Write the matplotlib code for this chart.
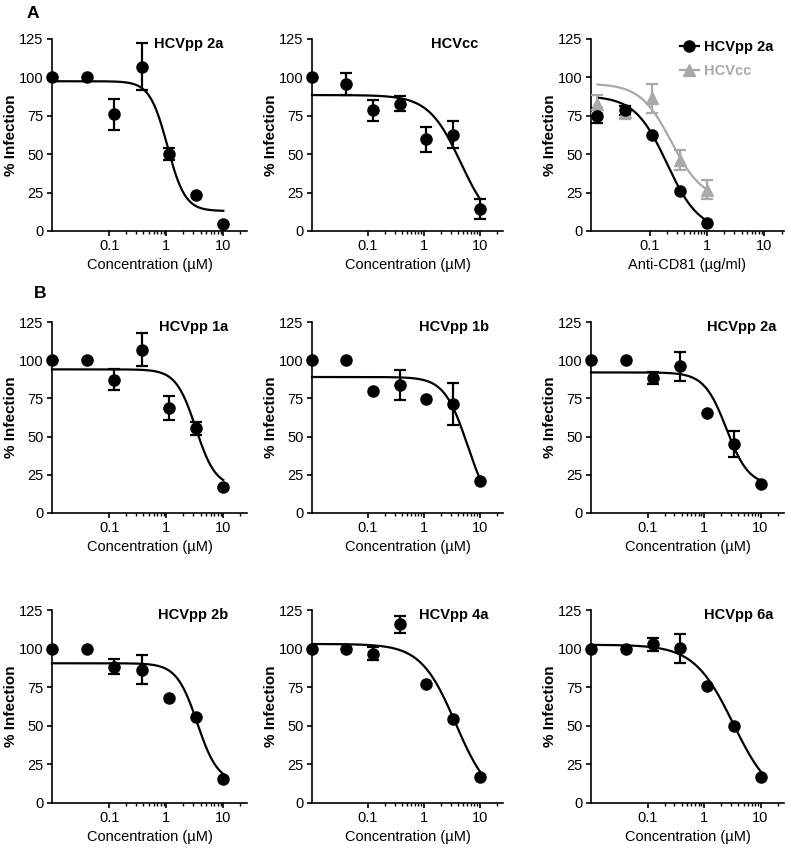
import numpy as np
import matplotlib.pyplot as plt
from matplotlib.ticker import FixedLocator, FixedFormatter
from matplotlib.lines import Line2D

plt.rcParams['font.family'] = ['Liberation Sans', 'DejaVu Sans']

# concentrations (uM) used in most panels, anti-CD81 dilutions (ug/ml)
conc = [0.01, 0.041, 0.123, 0.37, 1.11, 3.33, 10]
cd81 = [0.0123, 0.037, 0.111, 0.333, 1.0]

# panel A - mean % infection and error
a_2a = [100, 100, 76, 107, 50, 23.5, 4.5]
a_2a_err = [0, 0, 10, 15.5, 4, 0, 0]
a_cc = [100, 95.7, 78.7, 83, 59.6, 62.8, 14.1]
a_cc_err = [0, 7.3, 6.8, 4.9, 8, 8.7, 6.5]
cd81_2a = [75, 78.5, 62.7, 26, 5]
cd81_2a_err = [5, 3, 0, 0, 0]
cd81_cc = [82.6, 77.2, 86.5, 46.5, 27]
cd81_cc_err = [6, 4, 9.5, 6.5, 6]

# panel B - genotypes
b_1a = [100, 100, 87.3, 107, 68.9, 55.5, 17.3]
b_1a_err = [0, 0, 7, 10.7, 7.8, 4.3, 0]
b_1b = [100, 100, 79.9, 83.7, 74.4, 71.3, 21]
b_1b_err = [0, 0, 0, 10, 0, 14, 0]
b_2a = [100, 100, 88.5, 96.1, 65.7, 45.2, 19.1]
b_2a_err = [0, 0, 3.8, 9.5, 0, 8.3, 0]
b_2b = [100, 100, 88.2, 86.4, 67.8, 55.7, 15.8]
b_2b_err = [0, 0, 4.8, 9.6, 0, 0, 0]
b_4a = [100, 100, 96.8, 115.9, 76.9, 54.6, 16.7]
b_4a_err = [0, 0, 4.5, 5.5, 0, 0, 0]
b_6a = [100, 100, 102.8, 100.3, 75.9, 50.1, 16.8]
b_6a_err = [0, 0, 4.3, 9.4, 0, 0, 0]

# sigmoidal dose-response fits: top, bottom, IC50, hill slope
fit_a_2a = [97.5, 13, 1.05, 2.8]
fit_a_cc = [88.5, 0, 4.6, 1.5]
fit_cd81_2a = [88, 0, 0.2, 1.55]
fit_cd81_cc = [96, 20, 0.24, 1.6]
fit_b_1a = [94, 17, 3.3, 2.5]
fit_b_1b = [89, 0, 6.0, 2.1]
fit_b_2a = [92, 18, 2.5, 2.2]
fit_b_2b = [90.5, 13, 3.5, 2.4]
fit_b_4a = [103, 0, 3.7, 1.4]
fit_b_6a = [102.5, 0, 3.3, 1.25]

gray = '#a9a9a9'

fig = plt.figure(figsize=(7.9, 8.48), dpi=100)


def make_ax(l, t, w, b):
    return fig.add_axes([l / 790, 1 - b / 848, w / 790, (b - t) / 848])


def style(ax, xlim, xlabel):
    ax.set_xscale('log')
    ax.set_xlim(*xlim)
    ax.set_ylim(0, 125)
    ax.set_yticks([0, 25, 50, 75, 100, 125])
    ax.xaxis.set_major_locator(FixedLocator([0.1, 1, 10]))
    ax.xaxis.set_major_formatter(FixedFormatter(['0.1', '1', '10']))
    ax.xaxis.set_minor_locator(FixedLocator([0.2, 0.3, 0.4, 0.5, 0.6, 0.7, 0.8, 0.9,
                                             2, 3, 4, 5, 6, 7, 8, 9, 20]))
    ax.xaxis.set_minor_formatter(FixedFormatter([]))
    for s in ['top', 'right']:
        ax.spines[s].set_visible(False)
    for s in ['left', 'bottom']:
        ax.spines[s].set_linewidth(1.2)
    ax.tick_params(which='major', direction='out', length=3.5, width=1.2, labelsize=10.5, pad=2.5)
    ax.tick_params(which='minor', direction='out', length=2, width=1.0)
    ax.set_ylabel('% Infection', fontsize=11, fontweight='bold', labelpad=1)
    ax.set_xlabel(xlabel, fontsize=10.5, labelpad=3)


def draw(ax, x, y, err, fit, color='black', marker='o', ms=8):
    x = np.array(x)
    y = np.array(y)
    err = np.array(err)
    top, bottom, ic50, hill = fit
    xs = np.logspace(np.log10(x[0]), np.log10(x[-1]), 300)
    ys = bottom + (top - bottom) / (1 + (xs / ic50) ** hill)
    ax.plot(xs, ys, color=color, lw=1.6, clip_on=False, zorder=2)
    m = err > 0
    ax.errorbar(x[m], y[m], yerr=err[m], fmt='none', ecolor=color, elinewidth=1.6,
                capsize=4, capthick=1.6, clip_on=False, zorder=3)
    ax.plot(x, y, ls='none', marker=marker, color=color, ms=ms, clip_on=False, zorder=4)


def title(ax, text, x):
    ax.text(x, 0.973, text, transform=ax.transAxes, ha='center', va='center',
            fontsize=10.5, fontweight='bold')


cols = [(52, 195), (312, 191), (591, 193)]
rows = [(39, 231), (322, 513), (610, 803)]
xl_um = (0.01, 26)
xl_ab = (0.0095, 22)
lab_um = 'Concentration (µM)'

# row A
ax = make_ax(cols[0][0], rows[0][0], cols[0][1], rows[0][1])
style(ax, xl_um, lab_um)
draw(ax, conc, a_2a, a_2a_err, fit_a_2a)
title(ax, 'HCVpp 2a', 0.70)

ax = make_ax(cols[1][0], rows[0][0], cols[1][1], rows[0][1])
style(ax, xl_um, lab_um)
draw(ax, conc, a_cc, a_cc_err, fit_a_cc)
title(ax, 'HCVcc', 0.749)

ax = make_ax(cols[2][0], rows[0][0], cols[2][1], rows[0][1])
style(ax, xl_ab, 'Anti-CD81 (µg/ml)')
draw(ax, cd81, cd81_cc, cd81_cc_err, fit_cd81_cc, color=gray, marker='^', ms=8.5)
draw(ax, cd81, cd81_2a, cd81_2a_err, fit_cd81_2a)
handles = [Line2D([], [], color='black', marker='o', ms=8, lw=1.6),
           Line2D([], [], color=gray, marker='^', ms=8.5, lw=1.6)]
ax.legend(handles, ['HCVpp 2a', 'HCVcc'], loc='upper left', bbox_to_anchor=(0.46, 0.995),
          frameon=False, handlelength=1.3, handletextpad=0.35, labelspacing=0.7,
          borderpad=0, borderaxespad=0, labelcolor='linecolor',
          prop={'weight': 'bold', 'size': 10.5})

# row B / C
genos = [
    ('HCVpp 1a', b_1a, b_1a_err, fit_b_1a, 0.724),
    ('HCVpp 1b', b_1b, b_1b_err, fit_b_1b, 0.746),
    ('HCVpp 2a', b_2a, b_2a_err, fit_b_2a, 0.78),
    ('HCVpp 2b', b_2b, b_2b_err, fit_b_2b, 0.726),
    ('HCVpp 4a', b_4a, b_4a_err, fit_b_4a, 0.744),
    ('HCVpp 6a', b_6a, b_6a_err, fit_b_6a, 0.763),
]
for i, (name, y, e, f, tx) in enumerate(genos):
    r = rows[1 + i // 3]
    c = cols[i % 3]
    ax = make_ax(c[0], r[0], c[1], r[1])
    style(ax, xl_um, lab_um)
    draw(ax, conc, y, e, f)
    title(ax, name, tx)

fig.text(33 / 790, 1 - 13 / 848, 'A', fontsize=12.5, fontweight='bold', ha='center', va='center')
fig.text(40 / 790, 1 - 294 / 848, 'B', fontsize=12.5, fontweight='bold', ha='center', va='center')

fig.savefig('out.png', dpi=100)
